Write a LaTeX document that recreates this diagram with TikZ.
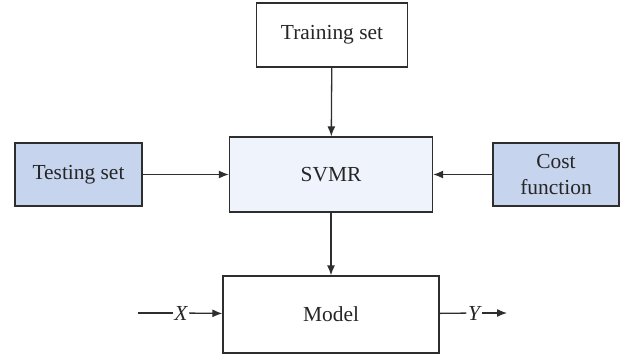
\documentclass[tikz,border=0pt]{standalone}
\usepackage{fontspec}
\setmainfont{Liberation Serif}
\usetikzlibrary{arrows.meta}
\definecolor{boxline}{HTML}{2E2E2E}
\definecolor{setblue}{HTML}{C6D4EE}
\definecolor{svmrblue}{HTML}{EEF3FC}
\begin{document}
\begin{tikzpicture}
  [x=1bp,y=-1bp,line width=1.3bp,
   every node/.style={font=\rmfamily\fontsize{21.5}{27}\selectfont,text=black!85,align=center},
   blk/.style={draw=boxline,rectangle,inner sep=0pt},
   lbl/.style={inner sep=1bp,font=\rmfamily\fontsize{21.5}{27}\selectfont\itshape},
   flow/.style={draw=boxline,-{Latex[length=10bp,width=8bp]}}]
  \useasboundingbox (0,0) rectangle (631,359);
  \node[blk,fill=white,minimum width=151bp,minimum height=64bp] (train) at (332,35) {Training set};
  \node[blk,fill=svmrblue,minimum width=203bp,minimum height=75bp] (svmr) at (331,174.5) {SVMR};
  \node[blk,fill=setblue,minimum width=127bp,minimum height=63bp] (test) at (78.5,174.5) {Testing set};
  \node[blk,fill=setblue,minimum width=126bp,minimum height=63bp] (cost) at (556,174.5) {Cost\\function};
  \node[blk,fill=white,minimum width=216bp,minimum height=77bp] (model) at (331,314.5) {Model};
  \node[lbl] (xlab) at (181,313) {X};
  \node[lbl] (ylab) at (474,313) {Y};
  \coordinate (xin) at (138,313);
  \coordinate (yout) at (507,313);
  \foreach \from/\to in {train/svmr,test/svmr,cost/svmr,svmr/model,xlab/model,ylab/yout}
    \draw[flow] (\from) -- (\to);
  \foreach \from/\to in {xin/xlab,model/ylab}
    \draw[draw=boxline] (\from) -- (\to);

\end{tikzpicture}
\end{document}
